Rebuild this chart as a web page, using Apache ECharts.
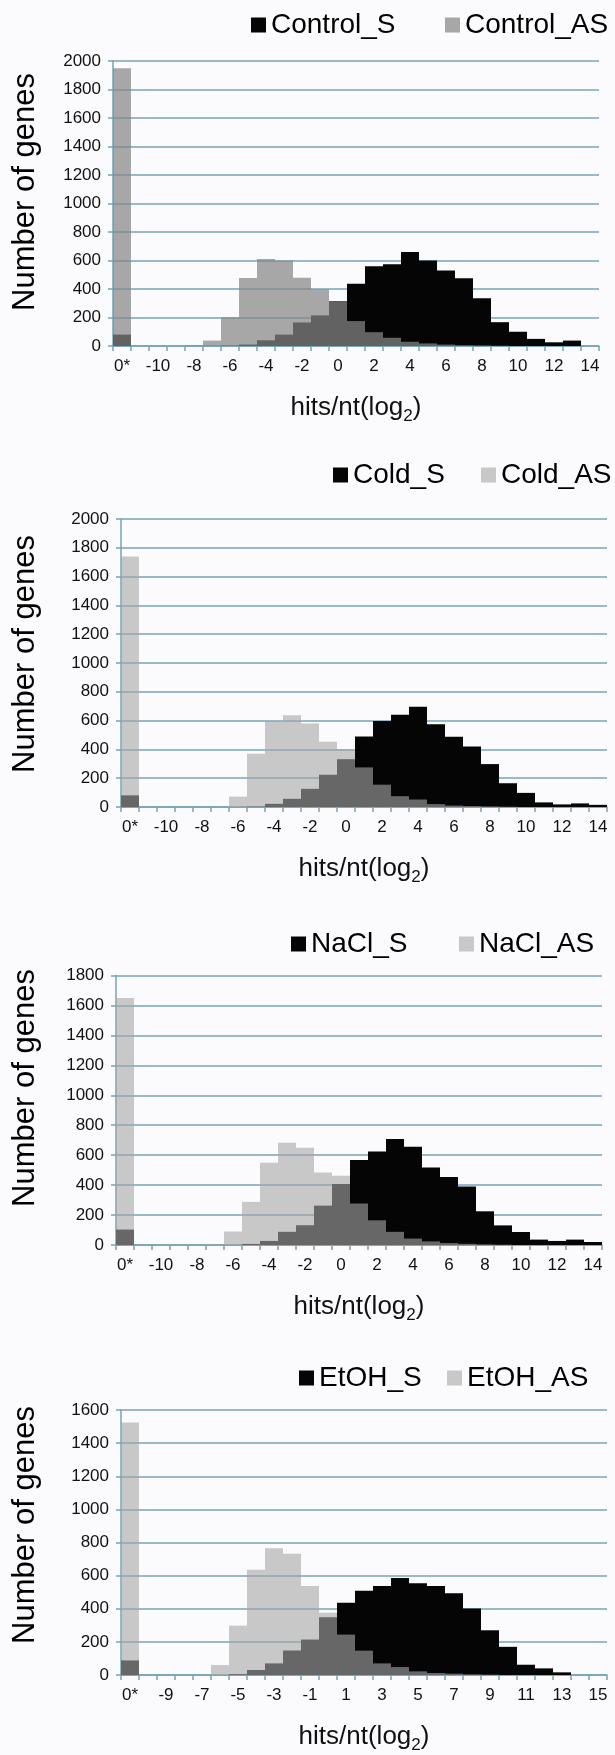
<!DOCTYPE html>
<html><head><meta charset="utf-8">
<script src="https://cdn.jsdelivr.net/npm/echarts@6/dist/echarts.min.js"></script>
<style>html,body{margin:0;padding:0;background:#fbfbfd;} #c{width:615px;height:1755px;}</style>
</head><body><div id="c"></div>
<script>
// ---- categories (tick labels) ----
const categoriesA = ['0*','-11','-10','-9','-8','-7','-6','-5','-4','-3','-2','-1','0','1','2','3','4','5','6','7','8','9','10','11','12','13','14'];
const categoriesB = ['0*','-10','-9','-8','-7','-6','-5','-4','-3','-2','-1','0','1','2','3','4','5','6','7','8','9','10','11','12','13','14','15'];

// ---- series values (number of genes) ----
const controlS  = [80,0,0,0,0,0,2,10,40,80,165,215,314,437,560,573,660,600,530,475,335,167,100,50,26,38,0];
const controlAS = [1950,0,0,0,5,38,202,477,610,600,479,399,312,175,97,58,30,18,10,6,4,2,0,0,0,0,0];
const coldS     = [81,0,0,0,0,0,0,3,22,57,126,224,332,490,598,640,697,575,488,420,298,165,98,32,18,25,15];
const coldAS    = [1740,0,0,0,0,0,72,369,598,637,580,453,401,275,155,75,52,20,10,7,4,2,0,0,0,0,0];
const naclS     = [103,0,0,0,0,0,0,7,27,88,132,263,407,567,624,708,656,517,455,390,225,131,87,36,27,36,20];
const naclAS    = [1650,0,0,0,0,3,90,288,550,683,650,485,462,277,165,88,43,24,13,8,4,2,0,0,0,0,0];
const etohS     = [88,0,0,0,0,0,5,30,70,148,214,348,436,508,538,586,554,538,494,402,270,170,62,40,16,0,0];
const etohAS    = [1525,0,0,0,0,60,298,635,766,732,537,376,244,147,70,48,22,12,8,4,2,0,0,0,0,0,0];

// ---- axis settings ----
const yMaxes = [2000, 2000, 1800, 1600];
const yInterval = 200;

const BLUE = '#76a3b8';
const TXT = '#111';
const FONT = '"Liberation Sans", Arial, Helvetica, sans-serif';

const panels = [
  {cats: categoriesA, sName:'Control_S', asName:'Control_AS', s:controlS, as:controlAS,
   grid:{left:113, top:61, width:486, height:285}, legY:25, legS:251, legAS:445, ytY:192,
   asColor:'rgba(135,135,135,0.72)'},
  {cats: categoriesA, sName:'Cold_S', asName:'Cold_AS', s:coldS, as:coldAS,
   grid:{left:121, top:519, width:486, height:288}, legY:475, legS:333, legAS:481, ytY:654,
   asColor:'rgba(166,166,166,0.61)'},
  {cats: categoriesA, sName:'NaCl_S', asName:'NaCl_AS', s:naclS, as:naclAS,
   grid:{left:116, top:975.5, width:486, height:269.5}, legY:944, legS:291, legAS:459, ytY:1088,
   asColor:'rgba(166,166,166,0.61)'},
  {cats: categoriesB, sName:'EtOH_S', asName:'EtOH_AS', s:etohS, as:etohAS,
   grid:{left:121, top:1410, width:486, height:274}, legY:1378, legS:299, legAS:447, ytY:1525,
   asColor:'rgba(166,166,166,0.61)'}
];

const option = {
  backgroundColor: '#fbfbfd',
  animation: false,
  grid: [], xAxis: [], yAxis: [], series: [], legend: [], graphic: []
};

panels.forEach((p, i) => {
  option.grid.push(Object.assign({containLabel:false}, p.grid));
  option.xAxis.push({
    type:'category', gridIndex:i, data:p.cats,
    axisLine:{show:true, lineStyle:{color:BLUE, width:1.5}},
    axisTick:{show:true, interval:0, length:5, lineStyle:{color:BLUE, width:1.5}},
    axisLabel:{interval:1, fontSize:17, color:TXT, margin:12, fontFamily:FONT},
    name:'{a|hits/nt(log}{b|2}{a|)}', nameLocation:'middle', nameGap:45,
    nameTextStyle:{rich:{
      a:{fontSize:26, fontFamily:FONT, color:TXT, lineHeight:30},
      b:{fontSize:17, fontFamily:FONT, color:TXT, padding:[17,0,0,0]}
    }}
  });
  option.yAxis.push({
    type:'value', gridIndex:i, min:0, max:yMaxes[i], interval:yInterval,
    axisLine:{show:true, lineStyle:{color:BLUE, width:1.5}},
    axisTick:{show:true, length:5, lineStyle:{color:BLUE, width:1.5}},
    axisLabel:{fontSize:17, color:TXT, margin:12, fontFamily:FONT, formatter: v => String(v)},
    splitLine:{show:true, lineStyle:{color:BLUE, width:1.5}}
  });
  option.series.push({
    name:p.sName, type:'bar', xAxisIndex:i, yAxisIndex:i, data:p.s,
    barGap:'-100%', barCategoryGap:'0%', itemStyle:{color:'#050505'}
  });
  option.series.push({
    name:p.asName, type:'bar', xAxisIndex:i, yAxisIndex:i, data:p.as,
    barGap:'-100%', barCategoryGap:'0%', itemStyle:{color:p.asColor}
  });
  [[p.sName, p.legS], [p.asName, p.legAS]].forEach(([nm, lx]) => {
    option.legend.push({
      data:[nm], left:lx, top:p.legY - 15, padding:0, selectedMode:false,
      icon:'rect', itemWidth:15, itemHeight:15,
      textStyle:{fontSize:28, color:'#000', fontFamily:FONT, lineHeight:30}
    });
  });
  option.graphic.push({
    type:'text', x:25, y:p.ytY, rotation:Math.PI/2,
    style:{text:'Number of genes', fontSize:31, fontFamily:FONT, fill:'#000',
           align:'center', verticalAlign:'middle'}
  });
});

const chart = echarts.init(document.getElementById('c'), null, {renderer:'canvas'});
chart.setOption(option);
</script>
</body></html>
